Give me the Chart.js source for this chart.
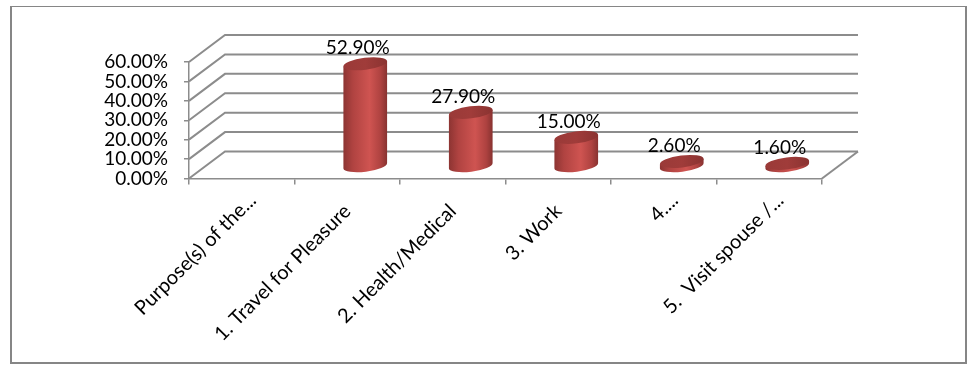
<!DOCTYPE html>
<html>
<head>
<meta charset="utf-8">
<script src="https://cdn.jsdelivr.net/npm/chart.js@4/dist/chart.umd.min.js"></script>
<style>
  html, body { margin: 0; background: #fff; }
  #frame { position: absolute; left: 10px; top: 6px; width: 953px; height: 355px;
    border: 2px solid #868686; border-top-width: 1px; }
  canvas { position: absolute; left: 0; top: 0; }
</style>
</head>
<body>
<div id="frame"></div>
<canvas id="c" width="975" height="372"></canvas>
<script>
// 3D-look cylinder column chart; depth is faked with plugins on top of the real scales.
const categories = ['Purpose(s) of the...', '1. Travel for Pleasure', '2. Health/Medical', '3. Work', '4....', '5.  Visit spouse /...'];
const percentValues = [null, 52.9, 27.9, 15.0, 2.6, 1.6];
const valueLabels = ['', '52.90%', '27.90%', '15.00%', '2.60%', '1.60%'];

const FONT = 'Lato';
const GRID = '#8c8c8c';
const WALL_DX = 36, WALL_DY = -27;   // back wall offset from the front plane
const BAR_DX = 18, BAR_DY = -12;     // columns stand mid-way on the floor
const RX = 22, RY = 6, TILT = -7 * Math.PI / 180;

const wallPlugin = {
  id: 'wall',
  beforeDatasetsDraw(chart) {
    const { ctx, scales: { x, y } } = chart;
    ctx.save();
    ctx.strokeStyle = GRID;
    ctx.lineWidth = 2;
    for (const t of y.ticks) {
      const py = y.getPixelForValue(t.value);
      ctx.beginPath();
      ctx.moveTo(x.left, py);
      ctx.lineTo(x.left + WALL_DX, py + WALL_DY);
      ctx.lineTo(x.right + WALL_DX, py + WALL_DY);
      ctx.stroke();
    }
    const py0 = y.getPixelForValue(0);
    ctx.beginPath();
    ctx.moveTo(x.right, py0);
    ctx.lineTo(x.right + WALL_DX, py0 + WALL_DY);
    ctx.stroke();
    ctx.restore();
  },
};

const cylinderPlugin = {
  id: 'cylinders',
  afterDatasetsDraw(chart) {
    const { ctx } = chart;
    chart.getDatasetMeta(0).data.forEach((bar, i) => {
      if (percentValues[i] == null) return;
      const cx = bar.x + BAR_DX, top = bar.y + BAR_DY, bottom = bar.base + BAR_DY;
      const ex = RX * Math.cos(TILT), ey = RX * Math.sin(TILT);

      const side = ctx.createLinearGradient(cx - RX, 0, cx + RX, 0);
      side.addColorStop(0, '#8c3432');
      side.addColorStop(0.22, '#b04341');
      side.addColorStop(0.6, '#cf5451');
      side.addColorStop(0.85, '#ae4240');
      side.addColorStop(1, '#873230');
      ctx.beginPath();
      ctx.ellipse(cx, bottom, RX, RY, TILT, 0, Math.PI);
      ctx.lineTo(cx - ex, top - ey);
      ctx.lineTo(cx + ex, top + ey);
      ctx.closePath();
      ctx.fillStyle = side;
      ctx.fill();

      const cap = ctx.createLinearGradient(cx - RX, 0, cx + RX, 0);
      cap.addColorStop(0, '#9a3a38');
      cap.addColorStop(0.5, '#a03c3a');
      cap.addColorStop(1, '#8a3331');
      ctx.beginPath();
      ctx.ellipse(cx, top, RX, RY, TILT, 0, Math.PI * 2);
      ctx.fillStyle = cap;
      ctx.fill();

      ctx.save();
      ctx.font = `19px ${FONT}`;
      ctx.fillStyle = '#000';
      ctx.textAlign = 'center';
      ctx.textBaseline = 'middle';
      ctx.fillText(valueLabels[i], cx - 7.5, top - 15.5);
      ctx.restore();
    });
  },
};

new Chart(document.getElementById('c').getContext('2d'), {
  type: 'bar',
  data: {
    labels: categories,
    datasets: [{
      data: percentValues,
      backgroundColor: 'rgba(0,0,0,0)',
      barThickness: 44,
    }],
  },
  plugins: [wallPlugin, cylinderPlugin],
  options: {
    responsive: false,
    animation: false,
    layout: { padding: { top: 62, right: 153, left: 0, bottom: 0 } },
    plugins: { legend: { display: false }, tooltip: { enabled: false } },
    scales: {
      x: {
        afterFit: s => { s.height = 193.5; },
        grid: { drawOnChartArea: false, color: GRID, lineWidth: 1.5, tickLength: 6 },
        border: { color: GRID, width: 1.5 },
        ticks: {
          font: { family: FONT, size: 20 }, color: '#000',
          minRotation: 45, maxRotation: 45, autoSkip: false, padding: 4, labelOffset: 11,
          // untruncated labels sit further down the slant than the "..." ones
          callback(v) {
            const label = this.getLabelForValue(v);
            return label.endsWith('...') ? label : label + '   ';
          },
        },
      },
      y: {
        min: 0, max: 60,
        afterFit: s => { s.width = 189; },
        grid: { drawOnChartArea: false, color: GRID, lineWidth: 1.5, tickLength: 5 },
        border: { color: GRID, width: 1.5 },
        ticks: { font: { family: FONT, size: 19 }, color: '#000', stepSize: 10, autoSkip: false, padding: 16, callback: v => v.toFixed(2) + '%' },
      },
    },
  },
});
</script>
</body>
</html>
